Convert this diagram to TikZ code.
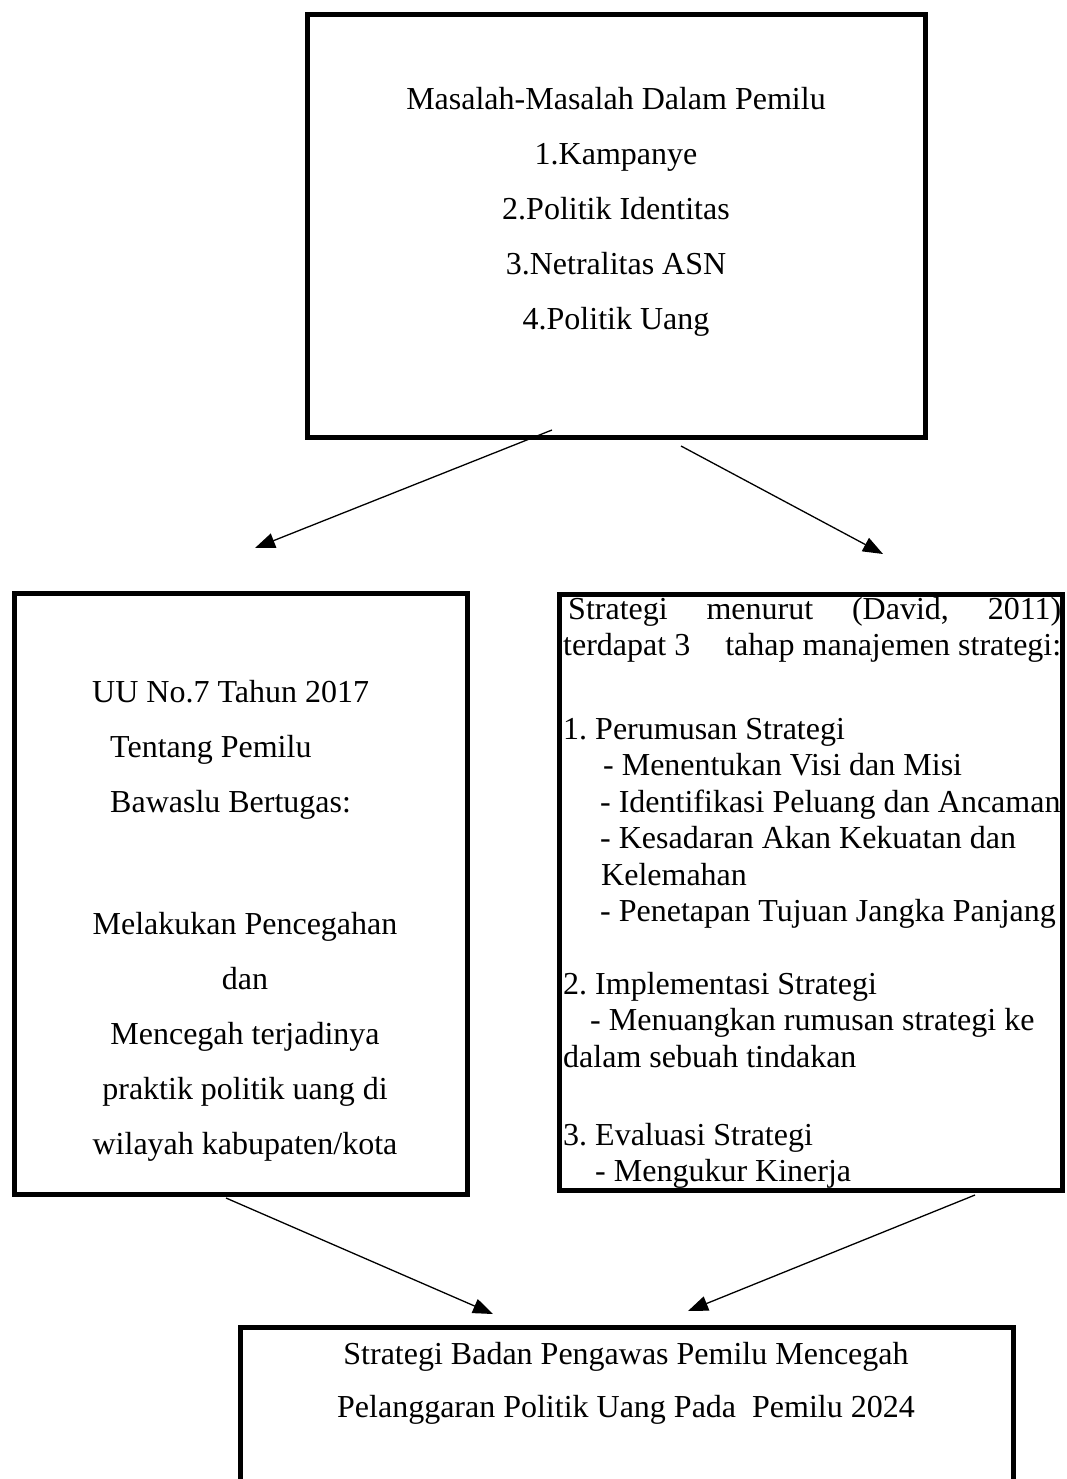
\documentclass[tikz,border=0pt]{standalone}
\usepackage{fontspec}
\setmainfont{Liberation Serif}
\usetikzlibrary{arrows.meta}

\tikzset{
  box/.style={draw, line width=5pt, inner sep=0pt},
  txt/.style={inner sep=0pt, font=\fontsize{32}{55}\selectfont\frenchspacing},
  flow/.style={line width=1.3pt, -{Triangle[length=20pt,width=15pt]}}
}

\begin{document}
\begin{tikzpicture}[x=1pt,y=-1pt]
\useasboundingbox (0,0) rectangle (1066,1479);
\clip (0,0) rectangle (1066,1479);

\node[box, minimum width=618pt, minimum height=423pt] (masalah) at (616.5,226) {};
\node[txt, align=center] (masalahtxt) at (616,212)
  {Masalah-Masalah Dalam Pemilu\\1.Kampanye\\2.Politik Identitas\\3.Netralitas ASN\\4.Politik Uang};

\node[box, minimum width=453pt, minimum height=601pt] (uu) at (241,894) {};
\node[txt, align=left, anchor=west] (uutxt) at (92,750)
  {UU No.7 Tahun 2017\\\hspace*{18pt}Tentang Pemilu\\\hspace*{18pt}Bawaslu Bertugas:};
\node[txt, align=center] (tugastxt) at (245,1037)
  {Melakukan Pencegahan\\dan\\Mencegah terjadinya\\praktik politik uang di\\wilayah kabupaten/kota};

\node[box, minimum width=503pt, minimum height=596pt] (david) at (811,892.5) {};
\node[txt, font=\fontsize{32}{36.5}\selectfont\frenchspacing, text width=498pt, align=flush left, anchor=north west] (davidtxt) at (563,597)
  {\hspace*{5pt}\makebox[\dimexpr\hsize-5pt][s]{Strategi menurut (David, 2011)}\\
   \makebox[\hsize][s]{terdapat 3\hfill\ tahap manajemen strategi:}\\[47pt]
   1. Perumusan Strategi\\
   \hspace*{40pt}- Menentukan Visi dan Misi\\
   \hspace*{37pt}- Identifikasi Peluang dan Ancaman\\
   \hspace*{37pt}- Kesadaran Akan Kekuatan dan\\
   \hspace*{38pt}Kelemahan\\
   \hspace*{37pt}- Penetapan Tujuan Jangka Panjang\\[36pt]
   2. Implementasi Strategi\\
   \hspace*{27pt}- Menuangkan rumusan strategi ke\\
   dalam sebuah tindakan\\[41.5pt]
   3. Evaluasi Strategi\\
   \hspace*{32pt}- Mengukur Kinerja};

\node[box, minimum width=773pt, minimum height=192pt] (hasil) at (627,1423.5) {};
\node[txt, font=\fontsize{32}{53}\selectfont, align=center] (hasiltxt) at (626,1383)
  {Strategi Badan Pengawas Pemilu Mencegah\\Pelanggaran Politik Uang Pada\ \ Pemilu 2024};

\coordinate (masalahL) at (552,430);
\coordinate (masalahR) at (681,446);
\coordinate (uuT) at (255,548);
\coordinate (davidT) at (883,554);
\coordinate (uuB) at (226,1198);
\coordinate (davidB) at (975,1195);
\coordinate (hasilL) at (493,1314);
\coordinate (hasilR) at (688,1311);

\draw[flow] (masalahL) -- (uuT);
\draw[flow] (masalahR) -- (davidT);
\draw[flow] (uuB) -- (hasilL);
\draw[flow] (davidB) -- (hasilR);
\end{tikzpicture}
\end{document}
